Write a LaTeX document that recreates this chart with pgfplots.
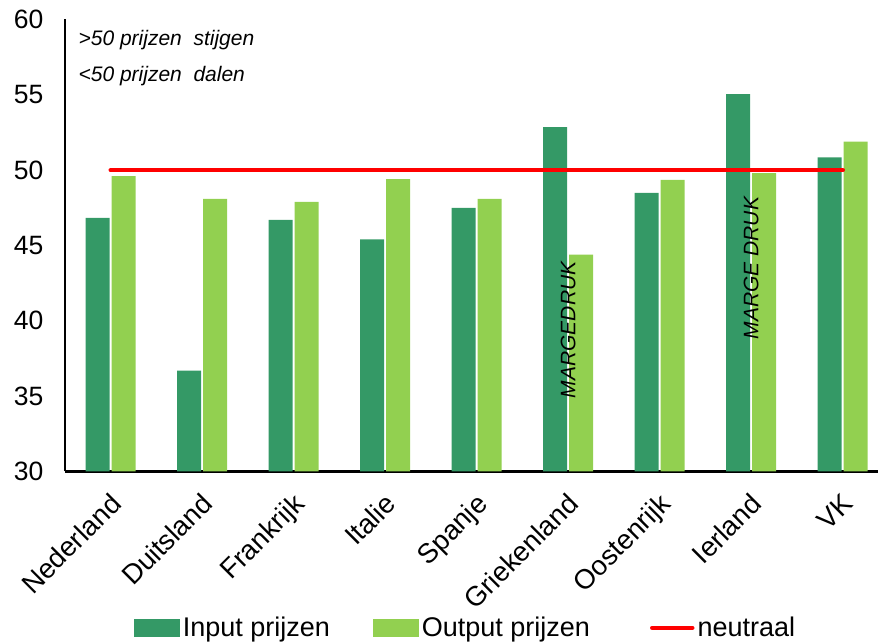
\documentclass[border=0pt]{standalone}
\usepackage{fontspec}
\setmainfont{Liberation Sans}
\usepackage{pgfplots}
\pgfplotsset{compat=1.18}
\definecolor{dkg}{RGB}{52,153,102}
\definecolor{ltg}{RGB}{146,208,80}
\pgfplotsset{
  barleg/.style={legend image code/.code={\fill[##1] (0pt,-9pt) rectangle (46pt,9pt);}},
  lineleg/.style={legend image code/.code={\path (0pt,0pt); \draw[##1] (17pt,0pt) -- (57pt,0pt);}},
}
\begin{document}
\begin{tikzpicture}
\useasboundingbox (0,0) rectangle (878pt,644pt);
\begin{axis}[
  at={(65pt,172.5pt)}, anchor=south west,
  scale only axis, width=812.5pt, height=452pt,
  xmin=-0.5, xmax=8.38, ymin=30, ymax=60,
  axis x line=bottom, axis y line=left,
  axis line style={-, black, line width=2.5pt},
  ytick={30,35,...,60},
  xtick={0,...,8},
  xticklabels={Nederland,Duitsland,Frankrijk,Italie,Spanje,Griekenland,Oostenrijk,Ierland,VK},
  major tick length=0pt,
  /pgf/number format/assume math mode=true,
  yticklabel style={font=\fontsize{26.5}{30}\selectfont, xshift=-18pt},
  xticklabel style={font=\fontsize{27.5}{32}\selectfont, xshift=-2pt, yshift=-20pt, rotate=45, anchor=north east, inner sep=0pt},
  legend columns=3,
  legend style={at={(0.4935,-0.346)}, anchor=center, draw=none, font=\fontsize{27}{32}\selectfont,
    nodes={inner sep=3pt},
    /tikz/every even column/.append style={column sep=40pt}},
  clip=false,
]
\addplot[ybar, bar width=24pt, bar shift=-13pt, fill=dkg, draw=none, barleg]
  coordinates {(0,46.84) (1,36.7) (2,46.7) (3,45.4) (4,47.5) (5,52.85) (6,48.5) (7,55.05) (8,50.85)};
\addlegendentry{Input prijzen}
\addplot[ybar, bar width=24pt, bar shift=13pt, fill=ltg, draw=none, barleg]
  coordinates {(0,49.6) (1,48.1) (2,47.9) (3,49.4) (4,48.1) (5,44.4) (6,49.35) (7,49.8) (8,51.9)};
\addlegendentry{Output prijzen}
\addplot[red, line width=4.5pt, line cap=round, sharp plot, mark=none, lineleg]
  coordinates {(0,50) (8,50)};
\addlegendentry{neutraal}
\node[anchor=west, font=\itshape\fontsize{21}{25}\selectfont] at (axis cs:-0.39,58.63) {>50 prijzen\ \ stijgen};
\node[anchor=west, font=\itshape\fontsize{21}{25}\selectfont] at (axis cs:-0.39,56.25) {<50 prijzen\ \ dalen};
\node[rotate=90, font=\itshape\fontsize{21}{25}\selectfont] at (axis cs:5,39.4) {MARGEDRUK};
\node[rotate=90, font=\itshape\fontsize{21}{25}\selectfont] at (axis cs:7,43.5) {MARGE DRUK};
\end{axis}
\end{tikzpicture}
\end{document}
